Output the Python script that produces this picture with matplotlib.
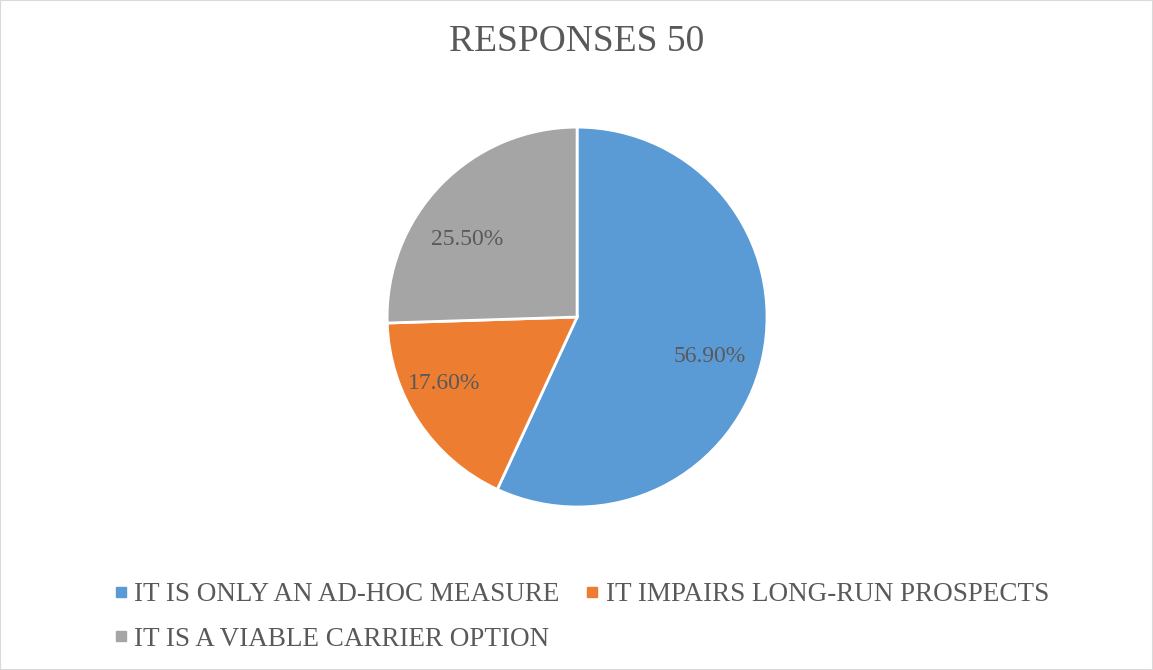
import matplotlib
matplotlib.use("Agg")
import numpy as np
import matplotlib.pyplot as plt
from matplotlib.lines import Line2D
from matplotlib.patches import Rectangle

# survey responses (percent)
labels = ["IT IS ONLY AN AD-HOC MEASURE",
          "IT IMPAIRS LONG-RUN PROSPECTS",
          "IT IS A VIABLE CARRIER OPTION"]
shares = [56.9, 17.6, 25.5]
colors = ["#5B9BD5", "#ED7D31", "#A5A5A5"]
title = "RESPONSES 50"

plt.rcParams['font.family'] = ['Liberation Serif', 'DejaVu Serif']
txt = "#595959"

fig = plt.figure(figsize=(11.53, 6.70), dpi=100)
fig.patch.set_facecolor("white")

ax = fig.add_axes([0.3357, 0.2433, 0.3296, 0.567])
wedges, _, autotexts = ax.pie(
    shares, colors=colors, startangle=90, counterclock=False,
    autopct="%.2f%%", pctdistance=0.74, radius=1,
    wedgeprops=dict(edgecolor="white", linewidth=2),
    textprops=dict(color=txt, fontsize=17))
ax.set_xlim(-1, 1)
ax.set_ylim(-1, 1)
ax.set_aspect("equal")

# nudge the percentage labels off the slice bisector a little (best-fit style)
nudge = [(-4, 0.73), (-7, 0.78), (9, 0.71)]
for w, t, (da, r) in zip(wedges, autotexts, nudge):
    ang = np.deg2rad((w.theta1 + w.theta2) / 2 + da)
    t.set_position((r * np.cos(ang), r * np.sin(ang)))

fig.text(0.5, 0.937, title, ha="center", va="center", fontsize=27, color=txt)

# legend: fill row-wise with two columns
order = [0, 2, 1]
handles = [Line2D([], [], marker="s", linestyle="none", markersize=7,
                  markerfacecolor=colors[i], markeredgecolor=colors[i]) for i in order]
leg = fig.legend(handles, [labels[i] for i in order], ncol=2,
                 loc="upper left", bbox_to_anchor=(0.1, 0.131),
                 frameon=False, fontsize=19.5, handlelength=0.4, handletextpad=0.3,
                 columnspacing=1.0, labelspacing=0.72, borderaxespad=0,
                 borderpad=0)
for t in leg.get_texts():
    t.set_color(txt)

fig.patches.append(Rectangle((0, 0), 1, 1, transform=fig.transFigure,
                             fill=False, edgecolor="#D9D9D9", linewidth=1.5))

fig.savefig("out.png", dpi=100)
